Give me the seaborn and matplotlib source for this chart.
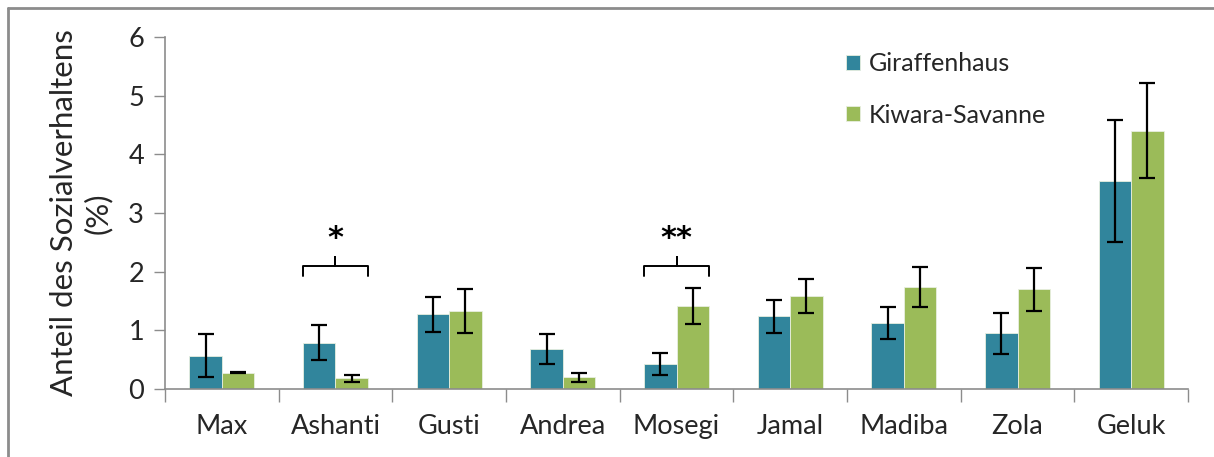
import matplotlib
matplotlib.use("Agg")
import matplotlib.pyplot as plt
from matplotlib.lines import Line2D
import seaborn as sns
import pandas as pd

# Individuals and mean share of social behaviour (%) per enclosure
animals = ["Max", "Ashanti", "Gusti", "Andrea", "Mosegi", "Jamal", "Madiba", "Zola", "Geluk"]
giraffenhaus = [0.57, 0.79, 1.27, 0.68, 0.43, 1.24, 1.12, 0.95, 3.55]
giraffenhaus_err = [0.36, 0.30, 0.30, 0.25, 0.19, 0.28, 0.27, 0.35, 1.04]
kiwara = [0.28, 0.18, 1.33, 0.20, 1.41, 1.58, 1.74, 1.70, 4.40]
kiwara_err = [0.01, 0.06, 0.37, 0.08, 0.31, 0.29, 0.34, 0.37, 0.81]
enclosures = ["Giraffenhaus", "Kiwara-Savanne"]
colors = ["#31859C", "#9BBB59"]
yticks = [0, 1, 2, 3, 4, 5, 6]
# significance markers: (animal, label)
signif = [("Ashanti", "*"), ("Mosegi", "**")]

sns.set_theme(style="white")
plt.rcParams["font.family"] = ["Lato", "DejaVu Sans"]

df = pd.DataFrame({
    "Tier": animals * 2,
    "Wert": giraffenhaus + kiwara,
    "Fehler": giraffenhaus_err + kiwara_err,
    "Gehege": [enclosures[0]] * len(animals) + [enclosures[1]] * len(animals),
})

fig = plt.figure(figsize=(12.14, 4.57), dpi=100)
ax = fig.add_axes([0.1359, 0.1488, 0.8427, 0.7702])

sns.barplot(data=df, x="Tier", y="Wert", hue="Gehege", order=animals,
            hue_order=enclosures, palette=colors, width=0.57, gap=0,
            errorbar=None, saturation=1, edgecolor="#e8efe0", linewidth=0.6,
            ax=ax)

# error bars at the centre of every bar
errs = {enclosures[0]: giraffenhaus_err, enclosures[1]: kiwara_err}
for container, name in zip(ax.containers, enclosures):
    for bar, e in zip(container, errs[name]):
        xc = bar.get_x() + bar.get_width() / 2
        ax.errorbar(xc, bar.get_height(), yerr=e, fmt="none", ecolor="black",
                    elinewidth=1.6, capsize=6, capthick=1.6, zorder=5)

# significance brackets
for name, label in signif:
    i = animals.index(name)
    x0, x1 = i - 0.285, i + 0.285
    xm = (x0 + x1) / 2
    ax.plot([x0, x0, xm, xm, xm, x1, x1],
            [1.93, 2.09, 2.09, 2.25, 2.09, 2.09, 1.93],
            color="black", lw=1.4, solid_joinstyle="round", clip_on=False)
    ax.text(xm, 2.56, label, ha="center", va="center", fontsize=22,
            color="black", family="DejaVu Sans", fontweight="bold")

ax.set_xlim(-0.5, len(animals) - 0.5)
ax.set_ylim(0, 6)
ax.set_yticks(yticks)
ax.set_yticklabels([str(t) for t in yticks], fontsize=19.5)
ax.set_xticks(range(len(animals)))
ax.set_xticklabels(animals, fontsize=19.5)
ax.set_xticks([i - 0.5 for i in range(len(animals) + 1)], minor=True)
ax.tick_params(axis="x", which="major", length=0, pad=18)
ax.tick_params(axis="x", which="minor", length=9, width=1, color="#8c8c8c",
               direction="out", bottom=True)
ax.tick_params(axis="y", length=8, width=1, color="#8c8c8c", direction="out",
               left=True, pad=7)
ax.set_xlabel("")
ax.set_ylabel("Anteil des Sozialverhaltens\n(%)", fontsize=22.5, linespacing=1.2,
              labelpad=12)

for side in ["top", "right"]:
    ax.spines[side].set_visible(False)
for side in ["left", "bottom"]:
    ax.spines[side].set_color("#8c8c8c")
    ax.spines[side].set_linewidth(1.2)

leg = ax.legend(loc="upper left", bbox_to_anchor=(0.651, 1.0), frameon=False,
                fontsize=18, handlelength=0.55, handleheight=0.55,
                handletextpad=0.35, labelspacing=1.15, borderaxespad=0.2)

# outer frame of the figure
fig.add_artist(Line2D([0.0066, 0.0066], [0.0, 0.9825], transform=fig.transFigure,
                      color="#8c8c8c", lw=2))
fig.add_artist(Line2D([0.0066, 1.0], [0.9825, 0.9825], transform=fig.transFigure,
                      color="#8c8c8c", lw=2))

fig.savefig("out.png", dpi=100)
